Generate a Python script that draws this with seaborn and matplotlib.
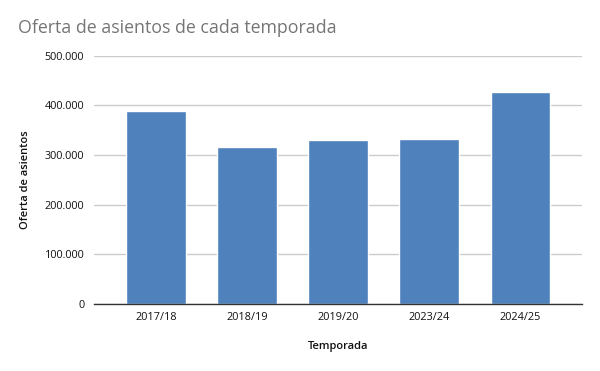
import matplotlib
matplotlib.use("Agg")
import matplotlib.pyplot as plt
import matplotlib.ticker as mticker
import seaborn as sns
import pandas as pd

temporadas = ["2017/18", "2018/19", "2019/20", "2023/24", "2024/25"]
asientos = [388000, 316000, 330000, 332000, 427000]
yticks = [0, 100000, 200000, 300000, 400000, 500000]

df = pd.DataFrame({"Temporada": temporadas, "Oferta de asientos": asientos})

sns.set_theme(style="white")
plt.rcParams['font.family'] = ['Open Sans', 'DejaVu Sans']

fig = plt.figure(figsize=(6, 3.71), dpi=100)
ax = fig.add_axes([0.1567, 0.1806, 0.8133, 0.6698])

sns.barplot(data=df, x="Temporada", y="Oferta de asientos", color="#4f81bd",
            saturation=1, width=0.65, ax=ax, zorder=3)

ax.set_ylim(0, 500000)
ax.set_xlim(-0.68, 4.68)
ax.set_yticks(yticks)
ax.yaxis.set_major_formatter(mticker.FuncFormatter(lambda v, p: f"{int(v):,}".replace(",", ".")))
ax.grid(axis="y", color="#cccccc", linewidth=1, zorder=0)
ax.grid(axis="x", visible=False)
for s in ["left", "right", "top"]:
    ax.spines[s].set_visible(False)
ax.spines["bottom"].set_color("#333333")
ax.spines["bottom"].set_linewidth(1.0)
ax.spines["bottom"].set_zorder(4)
ax.tick_params(axis="both", length=0, labelsize=7.8, colors="#111111", pad=6)
ax.tick_params(axis="y", pad=7)

ax.set_xlabel("Temporada", fontsize=8, color="#111111", labelpad=13, fontweight="semibold")
ax.set_ylabel("Oferta de asientos", fontsize=8, color="#111111", labelpad=10, fontweight="semibold")

fig.text(18/600, 1 - 28/371, "Oferta de asientos de cada temporada", fontsize=12.8,
         color="#757575", ha="left", va="center")

fig.savefig("out.png", dpi=100)
